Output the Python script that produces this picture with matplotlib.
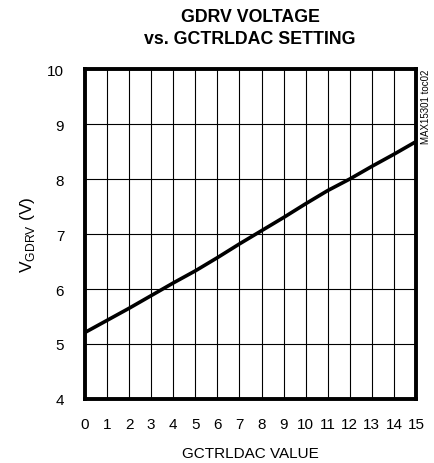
import matplotlib
matplotlib.use("Agg")
import matplotlib.pyplot as plt
from matplotlib import font_manager as fm

names = {f.name for f in fm.fontManager.ttflist}
fam = "Liberation Sans Narrow" if "Liberation Sans Narrow" in names else "Liberation Sans"
plt.rcParams['font.family'] = [fam, 'DejaVu Sans']
plt.rcParams['mathtext.fontset'] = 'custom'
plt.rcParams['mathtext.rm'] = fam

dac = [0, 1, 2, 3, 4, 5, 6, 7, 8, 9, 10, 11, 12, 13, 14, 15]
vgdrv = [5.21, 5.43, 5.65, 5.88, 6.11, 6.33, 6.57, 6.82, 7.06, 7.30, 7.55, 7.79, 8.00, 8.23, 8.45, 8.68]
xticks = list(range(0, 16))
yticks = [4, 5, 6, 7, 8, 9, 10]

fig = plt.figure(figsize=(4.35, 4.64), dpi=100)
ax = fig.add_axes([85/435, (464-400)/464, (416-85)/435, (400-70)/464])
ax.plot(dac, vgdrv, color='black', lw=2.6, solid_capstyle='butt', zorder=3)
ax.set_xlim(0, 15)
ax.set_ylim(4, 10)
ax.set_xticks(xticks)
ax.set_yticks(yticks)
ax.tick_params(length=0, labelsize=11, pad=13)
ax.tick_params(axis='y', pad=15)
ax.grid(True, color='black', lw=0.8)
for s in ax.spines.values():
    s.set_linewidth(2.8)
    s.set_zorder(4)
ax.set_xlabel('GCTRLDAC VALUE', fontsize=11, labelpad=11)
ax.set_ylabel(r'V$_{\mathregular{GDRV}}$ (V)', fontsize=12.5, labelpad=7)
fig.text(250/435, 1 - 17/464, 'GDRV VOLTAGE', fontsize=12.8, fontweight='bold', ha='center', va='center')
fig.text(250/435, 1 - 40/464, 'vs. GCTRLDAC SETTING', fontsize=12.8, fontweight='bold', ha='center', va='center')
fig.text(426/435, 1 - 107/464, 'MAX15301 toc02', rotation=90, fontsize=7, ha='center', va='center')
fig.savefig('out.png', dpi=100)
